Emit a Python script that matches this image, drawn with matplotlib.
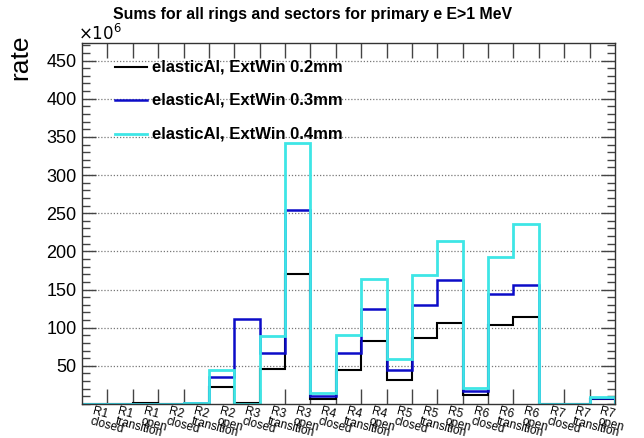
import numpy as np
import matplotlib
matplotlib.use("Agg")
import matplotlib.pyplot as plt
from matplotlib.lines import Line2D
from matplotlib.ticker import MultipleLocator, FixedLocator

plt.rcParams['font.family'] = ['Liberation Sans', 'DejaVu Sans']

# Bin labels: ring x sector type
bin_labels = [
    "R1\nclosed", "R1\ntransition", "R1\nopen",
    "R2\nclosed", "R2\ntransition", "R2\nopen",
    "R3\nclosed", "R3\ntransition", "R3\nopen",
    "R4\nclosed", "R4\ntransition", "R4\nopen",
    "R5\nclosed", "R5\ntransition", "R5\nopen",
    "R6\nclosed", "R6\ntransition", "R6\nopen",
    "R7\nclosed", "R7\ntransition", "R7\nopen",
]

# Rates (x10^6) per bin for each exit-window thickness
rate_02mm = [0.0, 0.0, 1.5, 0.0, 0.5, 22.3, 1.0, 46.3, 170.9, 7.0, 44.2,
             83.0, 31.5, 87.0, 105.8, 11.8, 103.2, 113.4, 0.0, 0.0, 6.2]
rate_03mm = [0.0, 0.0, 0.0, 0.0, 1.0, 35.8, 111.1, 67.3, 254.0, 10.9, 66.5,
             124.6, 45.2, 129.8, 162.2, 17.4, 144.3, 156.0, 0.5, 0.0, 8.3]
rate_04mm = [0.0, 0.0, 0.0, 0.0, 0.8, 44.2, 0.0, 89.6, 342.0, 14.8, 90.9,
             164.3, 59.4, 169.2, 213.8, 20.6, 192.4, 236.5, 0.0, 0.5, 9.6]

series_names = ["elasticAl, ExtWin 0.2mm", "elasticAl, ExtWin 0.3mm",
                "elasticAl, ExtWin 0.4mm"]
series_colors = ["black", "#0c0cc8", "#3ee6e6"]
series_widths = [1.5, 1.8, 2.0]

nbins = len(bin_labels)
edges = np.arange(nbins + 1)
centers = edges[:-1] + 0.5

fig = plt.figure(figsize=(6.44, 4.38), dpi=100)
ax = fig.add_axes([0.1273, 0.0776, 0.955 - 0.1273, 0.9018 - 0.0776])

# dotted horizontal grid at major y ticks
for yv in range(50, 451, 50):
    ax.axhline(yv, color="#777777", lw=0.9, ls=(0, (1, 1.5)), zorder=0)

for vals, col, lw in zip([rate_02mm, rate_03mm, rate_04mm],
                         series_colors, series_widths):
    ax.stairs(vals, edges, baseline=0, fill=False, color=col, lw=lw, zorder=2)

ax.set_xlim(0, nbins)
ax.set_ylim(0, 473)

# y axis ticks (both sides, inward)
ax.yaxis.set_major_locator(FixedLocator(list(range(50, 451, 50))))
ax.yaxis.set_minor_locator(MultipleLocator(10))
ax.tick_params(axis="y", which="major", direction="in", length=10, width=1,
               left=True, right=True, labelsize=13, pad=4, color="#444444")
ax.tick_params(axis="y", which="minor", direction="in", length=6, width=1,
               left=True, right=True, color="#444444")

# x axis: labels at bin centres, tick marks at bin edges
ax.set_xticks(centers)
ax.set_xticklabels([])
ax.tick_params(axis="x", which="major", length=0)
ax.xaxis.set_minor_locator(FixedLocator(list(edges[1:-1])))
ax.tick_params(axis="x", which="minor", direction="in", length=11, width=1,
               top=True, bottom=True, color="#444444")

for c, lab in zip(centers, bin_labels):
    ax.text(c - 0.02, -0.004, lab, transform=ax.get_xaxis_transform(),
            rotation=-15, rotation_mode="anchor", ha="left", va="top",
            fontsize=8.6, linespacing=0.76)

for sp in ax.spines.values():
    sp.set_linewidth(1)
    sp.set_color("#333333")

# legend drawn inside the frame
leg_y = [0.934, 0.842, 0.748]
for yy, name, col, lw in zip(leg_y, series_names, series_colors, series_widths):
    ax.add_line(Line2D([0.062, 0.122], [yy, yy], transform=ax.transAxes,
                       color=col, lw=lw))
    ax.text(0.132, yy, name, transform=ax.transAxes, ha="left", va="center",
            fontsize=12, fontweight="bold")

fig.text(113 / 644, 1 - 14 / 438, "Sums for all rings and sectors for primary e E>1 MeV",
         ha="left", va="center", fontsize=11.4, fontweight="bold")
fig.text(78 / 644, 1 - 33 / 438, r"$\times10^{6}$", ha="left", va="center",
         fontsize=12)
fig.text(20 / 644, 1 - 57 / 438, "rate", rotation=90, ha="center", va="center",
         fontsize=19)

fig.savefig("out.png", dpi=100)
